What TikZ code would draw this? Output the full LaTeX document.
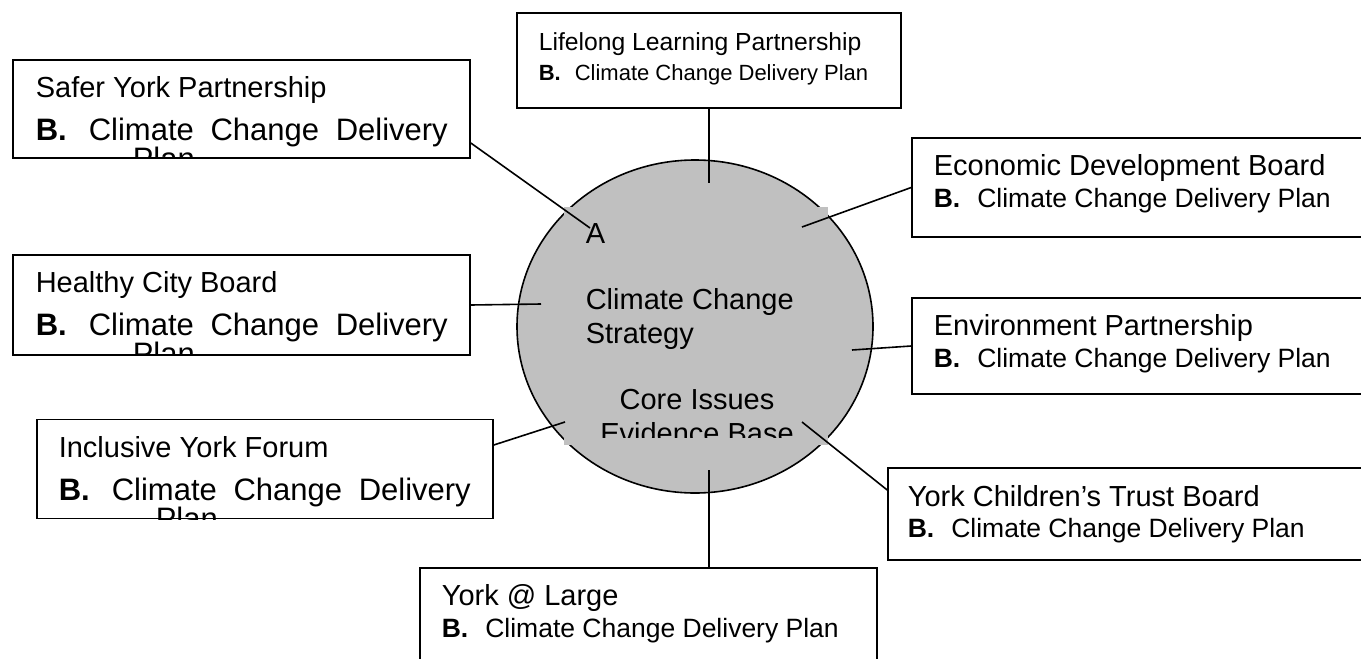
\documentclass[tikz,border=0pt]{standalone}
\usepackage{fontspec}
\setmainfont{Liberation Sans}
\usetikzlibrary{shapes}
\definecolor{ccgray}{RGB}{192,192,192}

\begin{document}
\begin{tikzpicture}[x=1pt, y=-1pt, line width=1.6pt]
\tikzstyle{partner}=[rectangle, draw=black, fill=white, inner sep=0pt]
\tikzstyle{bigtext}=[anchor=base west, inner sep=0pt, font=\fontsize{29}{34}\selectfont]
\tikzstyle{widetext}=[anchor=base west, inner sep=0pt, font=\fontsize{31}{36}\selectfont]
\tikzstyle{midtext}=[anchor=base west, inner sep=0pt, font=\fontsize{26.5}{32}\selectfont]
\tikzstyle{smalltext}=[anchor=base west, inner sep=0pt, font=\fontsize{22}{26}\selectfont]
\tikzstyle{linkstyle}=[line width=1.6pt]

\clip (0,0) rectangle (1361,659);

% centre
\node[ellipse, draw, fill=ccgray, minimum width=356pt, minimum height=333pt] (strategy) at (695,326.5) {};
\node[rectangle, fill=ccgray, inner sep=0pt, minimum width=264pt, minimum height=238pt] (core) at (696,326) {};
\coordinate (inA) at (590,228);
\coordinate (inB) at (709,183);
\coordinate (inC) at (802,227);
\coordinate (inD) at (541,304);
\coordinate (inE) at (852,350);
\coordinate (inF) at (565,422);
\coordinate (inG) at (802,422);
\coordinate (inH) at (709,470);

% partner boxes
\node[partner, minimum width=457pt, minimum height=98pt] (safer) at (241.5,109) {};
\node[partner, minimum width=384pt, minimum height=95pt] (lifelong) at (709,60.5) {};
\node[partner, minimum width=468pt, minimum height=99pt] (econ) at (1146,187.5) {};
\node[partner, minimum width=457pt, minimum height=100pt] (healthy) at (241.5,305) {};
\node[partner, minimum width=468pt, minimum height=96pt] (env) at (1146,346) {};
\node[partner, minimum width=456pt, minimum height=99pt] (inclusive) at (265,469) {};
\node[partner, minimum width=492pt, minimum height=92pt] (children) at (1134,514) {};
\node[partner, minimum width=457pt, minimum height=112pt] (yorklarge) at (648.5,624) {};

% connectors
\draw[linkstyle] ([yshift=-34pt]safer.east) -- (inA);
\draw[linkstyle] (lifelong.south) -- (inB);
\draw[linkstyle] (econ.west) -- (inC);
\draw[linkstyle] (healthy.east) -- (inD);
\draw[linkstyle] (env.west) -- (inE);
\draw[linkstyle] ([yshift=24pt]inclusive.east) -- (inF);
\draw[linkstyle] ([yshift=24pt]children.west) -- (inG);
\draw[linkstyle] (inH) -- (inH |- yorklarge.north);

% centre text
\node[bigtext] (labA) at (585,243) {A};
\node[bigtext] (labClimate) at (585,309) {Climate Change};
\node[bigtext] (labStrategy) at (585,343) {Strategy};
\begin{scope}
\clip (564,207) rectangle (828,437);
\node[bigtext, anchor=base] (labCore) at (697,409) {Core Issues};
\node[bigtext, anchor=base] (labEvidence) at (697,443) {Evidence Base};
\end{scope}

% box text
\begin{scope}
\clip (safer.south west) rectangle (safer.north east);
\node[bigtext] (saferT) at (35,97) {Safer York Partnership};
\node[widetext] (saferB) at (35,140) {\hbox to 412pt{\textbf{B.}\hspace{22pt}Climate\hfill Change\hfill Delivery}};
\node[widetext] (saferP) at (132,169) {Plan};
\end{scope}
\node[smalltext, font=\fontsize{24.7}{30}\selectfont] (lifeT) at (538,50) {Lifelong Learning Partnership};
\node[smalltext] (lifeB) at (538,80) {\textbf{B.}\hspace{14pt}Climate Change Delivery Plan};
\node[bigtext] (econT) at (933,175) {Economic Development Board};
\node[midtext] (econB) at (933,207) {\textbf{B.}\hspace{17pt}Climate Change Delivery Plan};
\begin{scope}
\clip (healthy.south west) rectangle (healthy.north east);
\node[bigtext] (healthyT) at (35,292) {Healthy City Board};
\node[widetext] (healthyB) at (35,335) {\hbox to 412pt{\textbf{B.}\hspace{22pt}Climate\hfill Change\hfill Delivery}};
\node[widetext] (healthyP) at (132,364) {Plan};
\end{scope}
\node[bigtext] (envT) at (933,335) {Environment Partnership};
\node[midtext] (envB) at (933,367) {\textbf{B.}\hspace{17pt}Climate Change Delivery Plan};
\begin{scope}
\clip (inclusive.south west) rectangle (inclusive.north east);
\node[bigtext] (inclT) at (58,457) {Inclusive York Forum};
\node[widetext] (inclB) at (58,500) {\hbox to 412pt{\textbf{B.}\hspace{22pt}Climate\hfill Change\hfill Delivery}};
\node[widetext] (inclP) at (155,529) {Plan};
\end{scope}
\node[bigtext] (childT) at (907,506) {York Children’s Trust Board};
\node[midtext] (childB) at (907,537) {\textbf{B.}\hspace{17pt}Climate Change Delivery Plan};
\node[bigtext] (largeT) at (441,605) {York @ Large};
\node[midtext] (largeB) at (441,637) {\textbf{B.}\hspace{17pt}Climate Change Delivery Plan};
\end{tikzpicture}
\end{document}
